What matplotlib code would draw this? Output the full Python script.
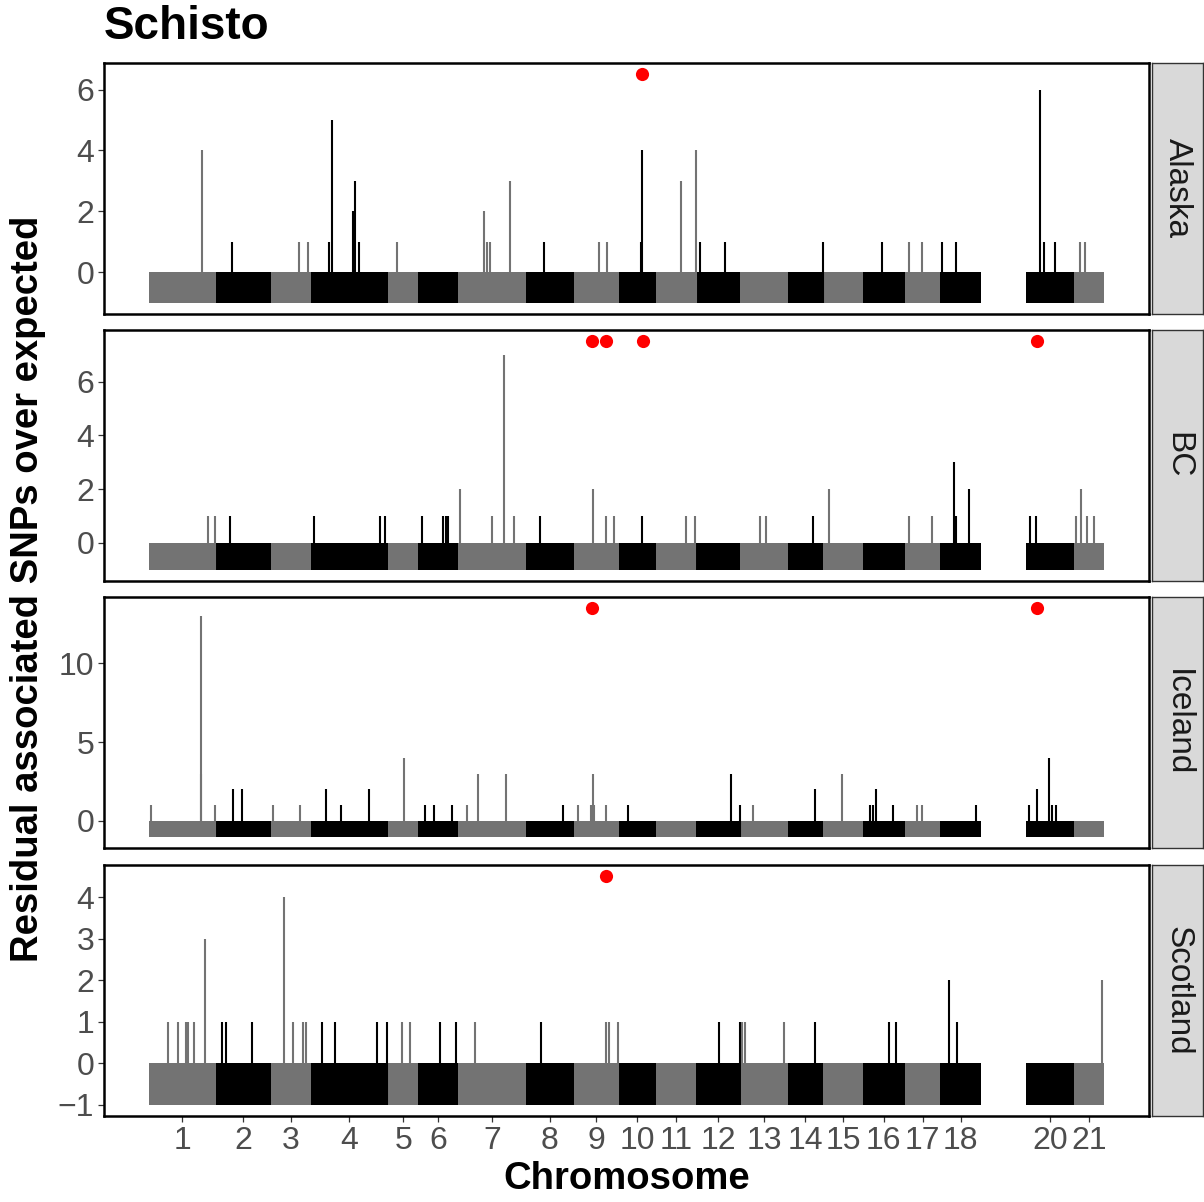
"""Schisto - residual associated SNPs over expected, per population."""

from __future__ import annotations

import matplotlib

matplotlib.use("Agg")
import matplotlib.pyplot as plt
import numpy as np


plt.rcParams["font.family"] = ["Liberation Sans", "DejaVu Sans"]

# chromosome sizes (Mb); chr19 keeps its slot on the axis but has no windows
CHROMOSOMES = list(range(1, 22))
CHROM_LENGTHS = [28.0, 23.1, 16.8, 32.5, 12.7, 16.7, 28.4, 20.0, 18.9, 15.7,
                 16.8, 18.5, 20.0, 14.7, 16.8, 17.5, 15.0, 17.2, 18.9, 20.0, 12.6]
MISSING_CHROM = [19]

POPULATIONS = ["Alaska", "BC", "Iceland", "Scotland"]

# windows with residual > 0: (chromosome, position in chromosome [Mb], residual)
ALASKA_PEAKS = [
    (1, 22.4, 4), (2, 6.7, 1), (3, 12.0, 1), (3, 15.7, 1),
    (4, 7.7, 1), (4, 8.8, 5), (4, 17.9, 2), (4, 18.7, 3), (4, 20.4, 1),
    (5, 3.7, 1), (7, 10.6, 2), (7, 12.1, 1), (7, 13.4, 1), (7, 21.8, 3),
    (8, 7.7, 1), (9, 10.8, 1), (9, 14.0, 1), (10, 9.2, 1), (10, 9.8, 4),
    (11, 10.3, 3), (11, 16.6, 4), (12, 1.8, 1), (12, 12.2, 1), (14, 14.6, 1),
    (16, 8.2, 1), (17, 1.8, 1), (17, 7.3, 1), (18, 0.8, 1), (18, 6.7, 1),
    (20, 5.6, 6), (20, 7.4, 1), (20, 11.9, 1), (21, 2.4, 1), (21, 4.5, 1),
]
BC_PEAKS = [
    (1, 24.9, 1), (1, 27.9, 1), (2, 6.0, 1), (4, 1.4, 1), (4, 29.1, 1), (4, 31.2, 1),
    (6, 1.6, 1), (6, 10.3, 1), (6, 11.6, 1), (6, 12.5, 1),
    (7, 0.7, 2), (7, 14.2, 1), (7, 19.3, 7), (7, 23.4, 1), (8, 6.0, 1),
    (9, 8.0, 2), (9, 13.6, 1), (9, 16.8, 1), (10, 9.8, 1), (11, 12.4, 1), (11, 16.2, 1),
    (13, 8.4, 1), (13, 10.9, 1), (14, 10.5, 1), (15, 2.5, 2), (17, 1.8, 1), (17, 11.3, 1),
    (18, 5.7, 3), (18, 6.4, 1), (18, 12.0, 2), (20, 1.4, 1), (20, 4.2, 1),
    (21, 1.0, 1), (21, 2.7, 2), (21, 5.5, 1), (21, 8.3, 1),
]
ICELAND_PEAKS = [
    (1, 1.0, 1), (1, 21.7, 3), (1, 22.0, 13), (1, 27.8, 1), (2, 7.3, 2), (2, 11.2, 2),
    (3, 0.8, 1), (3, 12.3, 1), (4, 6.6, 2), (4, 12.9, 1), (4, 24.5, 2), (5, 6.8, 4),
    (6, 2.7, 1), (6, 6.6, 1), (6, 14.1, 1), (7, 3.8, 1), (7, 8.4, 3), (7, 20.0, 3),
    (8, 15.5, 1), (9, 2.0, 1), (9, 7.2, 1), (9, 8.0, 3), (9, 8.7, 1), (9, 13.6, 1),
    (10, 3.8, 1), (12, 14.6, 3), (12, 18.4, 1), (13, 5.3, 1), (14, 11.5, 2), (15, 8.0, 3),
    (16, 3.1, 1), (16, 4.4, 1), (16, 5.6, 2), (16, 12.5, 1), (17, 5.3, 1), (17, 7.4, 1),
    (18, 15.1, 1), (20, 1.1, 1), (20, 4.3, 2), (20, 9.5, 4), (20, 10.8, 1), (20, 12.3, 1),
]
SCOTLAND_PEAKS = [
    (1, 8.1, 1), (1, 12.3, 1), (1, 15.7, 1), (1, 16.5, 1), (1, 18.9, 1), (1, 23.5, 3),
    (2, 2.8, 1), (2, 4.2, 1), (2, 15.1, 1), (3, 5.6, 4), (3, 9.5, 1), (3, 13.6, 1), (3, 15.0, 1),
    (4, 4.9, 1), (4, 10.2, 1), (4, 27.7, 1), (4, 31.8, 1), (5, 6.0, 1), (5, 9.2, 1),
    (6, 9.0, 1), (6, 15.7, 1), (7, 7.0, 1), (8, 6.3, 1), (9, 13.6, 1), (9, 14.7, 1), (9, 18.8, 1),
    (12, 9.5, 1), (12, 18.4, 1), (13, 0.7, 1), (13, 2.1, 1), (13, 18.2, 1), (14, 11.4, 1),
    (16, 10.8, 1), (16, 14.0, 1), (18, 3.6, 2), (18, 6.8, 1), (21, 11.6, 2),
]

# significant windows (chromosome, position [Mb]) and the height of the marker row
ALASKA_SIG = [(10, 9.8)]
BC_SIG = [(9, 7.8), (9, 13.4), (10, 10.1), (20, 4.4)]
ICELAND_SIG = [(9, 7.8), (20, 4.4)]
SCOTLAND_SIG = [(9, 13.4)]
SIG_HEIGHT = [6.5, 7.5, 13.5, 4.5]

Y_TICKS = [[0, 2, 4, 6], [0, 2, 4, 6], [0, 5, 10], [-1, 0, 1, 2, 3, 4]]

GREY = "#737373"
BLACK = "#000000"
TICK_COLOUR = "#4D4D4D"

# panel layout in pixels (figure is 1204 x 1202)
FIG_W, FIG_H = 1204, 1202
PANEL_LEFT, PANEL_RIGHT = 104, 1149
PANEL_TOPS = [63, 330, 597, 865]
PANEL_HEIGHT = 251
STRIP_LEFT, STRIP_RIGHT = 1152, 1203
X_EXPAND = 0.047


def chrom_starts() -> np.ndarray:
    lengths = np.array(CHROM_LENGTHS)
    return np.concatenate([[0.0], np.cumsum(lengths)[:-1]])


def chrom_colour(chrom: int) -> str:
    return GREY if chrom % 2 else BLACK


def to_genome(chrom: int, pos: float, starts: np.ndarray) -> float:
    return float(starts[chrom - 1] + pos)


def draw_panel(ax, peaks, sig, sig_y, yticks, starts) -> None:
    lengths = np.array(CHROM_LENGTHS)

    # every window sits at least at -1, giving the solid chromosome blocks
    for chrom in CHROMOSOMES:
        if chrom in MISSING_CHROM:
            continue
        ax.bar(starts[chrom - 1], 1, width=lengths[chrom - 1], bottom=-1,
               align="edge", color=chrom_colour(chrom), linewidth=0)

    xs = [to_genome(c, p, starts) for c, p, _ in peaks]
    ys = [r for _, _, r in peaks]
    cols = [chrom_colour(c) for c, _, _ in peaks]
    ax.vlines(xs, -1, ys, colors=cols, linewidth=1.5)

    sx = [to_genome(c, p, starts) for c, p in sig]
    ax.scatter(sx, [sig_y] * len(sx), s=90, color="#FF0000", zorder=5, linewidths=0)

    total = float(np.sum(CHROM_LENGTHS))
    ax.set_xlim(-X_EXPAND * total, (1 + X_EXPAND) * total)
    span = sig_y + 1
    ax.set_ylim(-1 - 0.05 * span, sig_y + 0.05 * span)
    ax.set_yticks(yticks)

    for side in ax.spines.values():
        side.set_linewidth(1.8)
        side.set_color("black")
    ax.tick_params(axis="both", direction="out", length=4, width=0.9, color="#333333",
                   labelcolor=TICK_COLOUR, labelsize=23, pad=3)


def draw_strip(fig, top: int, label: str) -> None:
    sax = fig.add_axes([STRIP_LEFT / FIG_W, 1 - (top + PANEL_HEIGHT) / FIG_H,
                        (STRIP_RIGHT - STRIP_LEFT) / FIG_W, PANEL_HEIGHT / FIG_H])
    sax.set_facecolor("#D9D9D9")
    sax.set_xticks([])
    sax.set_yticks([])
    for side in sax.spines.values():
        side.set_color("#333333")
        side.set_linewidth(1.0)
    sax.text(0.5, 0.5, label, rotation=270, ha="center", va="center",
             fontsize=24, color="#1A1A1A", transform=sax.transAxes)


def main() -> None:
    starts = chrom_starts()
    peaks_all = [ALASKA_PEAKS, BC_PEAKS, ICELAND_PEAKS, SCOTLAND_PEAKS]
    sig_all = [ALASKA_SIG, BC_SIG, ICELAND_SIG, SCOTLAND_SIG]

    fig = plt.figure(figsize=(FIG_W / 100, FIG_H / 100), dpi=100)

    axes = []
    for i, pop in enumerate(POPULATIONS):
        top = PANEL_TOPS[i]
        ax = fig.add_axes([PANEL_LEFT / FIG_W, 1 - (top + PANEL_HEIGHT) / FIG_H,
                           (PANEL_RIGHT - PANEL_LEFT) / FIG_W, PANEL_HEIGHT / FIG_H])
        draw_panel(ax, peaks_all[i], sig_all[i], SIG_HEIGHT[i], Y_TICKS[i], starts)
        draw_strip(fig, top, pop)
        axes.append(ax)

    # chromosome labels at block centres, only on the bottom panel
    lengths = np.array(CHROM_LENGTHS)
    shown = [c for c in CHROMOSOMES if c not in MISSING_CHROM]
    mids = [starts[c - 1] + lengths[c - 1] / 2 for c in shown]
    for ax in axes[:-1]:
        ax.set_xticks([])
    axes[-1].set_xticks(mids)
    axes[-1].set_xticklabels([str(c) for c in shown])

    fig.text(PANEL_LEFT / FIG_W, 1 - 27 / FIG_H, "Schisto", ha="left", va="center",
             fontsize=33, fontweight="bold")
    fig.text((PANEL_LEFT + PANEL_RIGHT) / 2 / FIG_W, 1 - 1179 / FIG_H, "Chromosome",
             ha="center", va="center", fontsize=27.5, fontweight="bold")
    fig.text(28 / FIG_W, 1 - 589 / FIG_H, "Residual associated SNPs over expected",
             ha="center", va="center", rotation=90, fontsize=27.5, fontweight="bold")

    fig.savefig("out.png", dpi=100)
    plt.close(fig)


if __name__ == "__main__":
    main()
